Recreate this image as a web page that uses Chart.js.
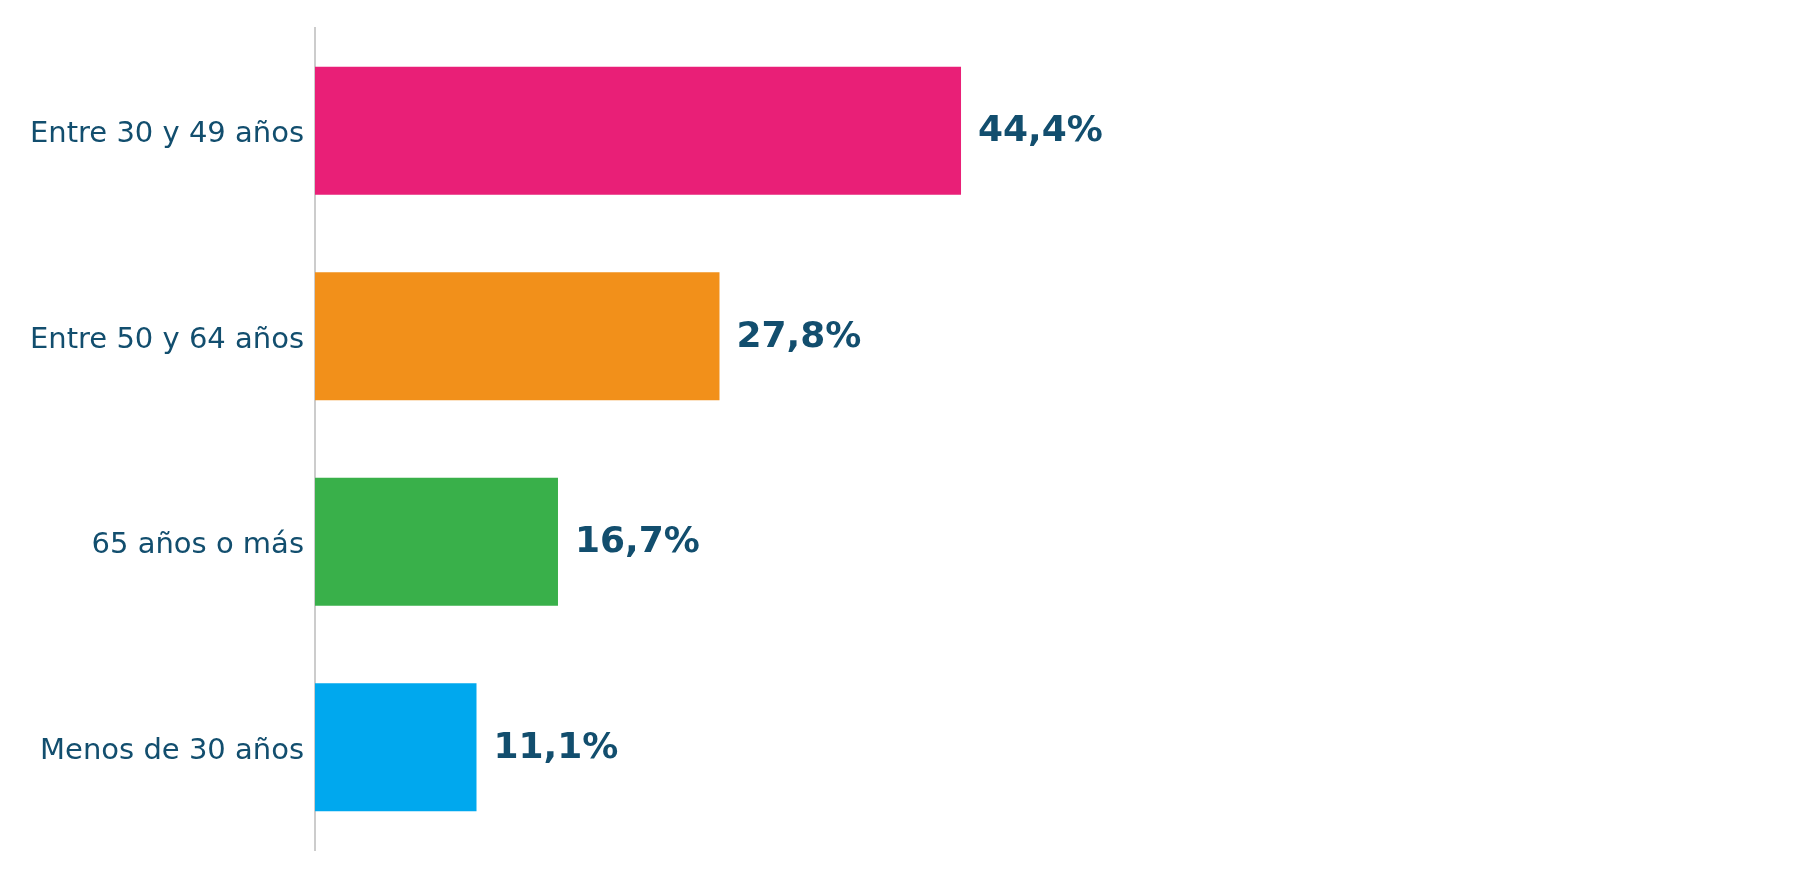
<!DOCTYPE html>
<html>
<head>
<meta charset="utf-8">
<script src="https://cdn.jsdelivr.net/npm/chart.js@4"></script>
<style>
  html, body { margin: 0; padding: 0; background: #fff; }
  #wrap { width: 1800px; height: 879px; position: relative; }
</style>
</head>
<body>
<div id="wrap"><canvas id="age-chart"></canvas></div>
<script>
const categories = ["Entre 30 y 49 años", "Entre 50 y 64 años", "65 años o más", "Menos de 30 años"];
const shares = [44.4, 27.8, 16.7, 11.1];
const barColors = ["#E91F77", "#F2901A", "#39B04A", "#00A8EE"];

const textColor = "#124E6E";

// etiquetas de valor a la derecha de cada barra
const valueLabels = {
    id: "valueLabels",
    afterDatasetsDraw(chart) {
        const ctx = chart.ctx;
        const meta = chart.getDatasetMeta(0);
        ctx.save();
        ctx.font = "bold 36px 'DejaVu Sans'";
        ctx.fillStyle = textColor;
        ctx.textAlign = "left";
        ctx.textBaseline = "middle";
        meta.data.forEach(function(bar, i) {
            const txt = shares[i].toFixed(1).replace(".", ",") + "%";
            ctx.fillText(txt, bar.x + 17, bar.y + 1);
        });
        ctx.restore();
    }
};

new Chart(document.getElementById("age-chart").getContext("2d"), {
    type: "bar",
    data: {
        labels: categories,
        datasets: [{
            data: shares,
            backgroundColor: barColors,
            borderWidth: 0,
            barPercentage: 1,
            categoryPercentage: 0.623
        }]
    },
    options: {
        indexAxis: "y",
        responsive: true,
        maintainAspectRatio: false,
        animation: false,
        layout: { padding: { top: 28, bottom: 29, right: 30, left: 0 } },
        plugins: {
            legend: { display: false },
            tooltip: { enabled: false }
        },
        scales: {
            x: {
                display: false,
                min: 0,
                max: 100
            },
            y: {
                grid: { display: false },
                border: { display: true, color: "#cccccc", width: 2 },
                ticks: {
                    color: textColor,
                    padding: 3,
                    labelOffset: 4,
                    font: { family: "'DejaVu Sans'", size: 29 }
                },
                afterFit: function(scale) { scale.width = 315; }
            }
        }
    },
    plugins: [valueLabels]
});
</script>
</body>
</html>
